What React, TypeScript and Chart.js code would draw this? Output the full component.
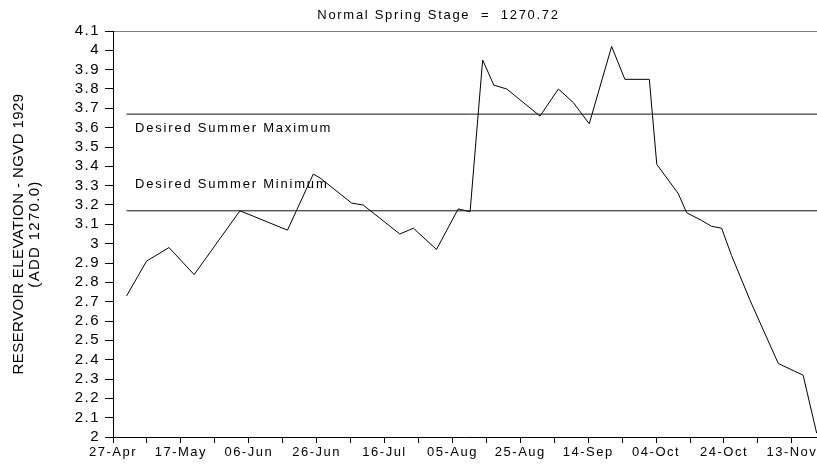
import React, { useEffect, useRef } from 'react';
import { Chart, registerables } from 'chart.js';

Chart.register(...registerables);

// Days after 27-Apr
const dayOffsets = [
  4.0, 9.9, 16.5, 23.9, 37.4, 51.4, 59.0, 61.0, 70.3, 73.7, 84.5, 88.5, 95.3, 101.7, 105.2,
  108.9, 112.2, 116.0, 125.8, 131.2, 135.6, 140.3, 146.9, 150.8, 158.0, 160.2, 166.5, 169.0,
  173.4, 176.3, 179.3, 182.2, 187.6, 196.0, 203.3, 207.3,
];
// Reservoir elevation (ADD 1270.0)
const elevations = [
  2.73, 2.91, 2.98, 2.84, 3.17, 3.07, 3.36, 3.34, 3.21, 3.2, 3.05, 3.08, 2.97, 3.18, 3.165,
  3.95, 3.82, 3.8, 3.66, 3.8, 3.73, 3.62, 4.02, 3.85, 3.85, 3.41, 3.26, 3.16,
  3.12, 3.09, 3.08, 2.94, 2.71, 2.38, 2.32, 2.02,
];
const tickLabels = ['27-Apr', '17-May', '06-Jun', '26-Jun', '16-Jul', '05-Aug', '25-Aug', '14-Sep', '04-Oct', '24-Oct', '13-Nov'];

const xMinDay = 0;
const xMaxDay = 207.4;
const yMin = 2;
const yMax = 4.1;
const normalSpringStage = 4.1;
const desiredSummerMax = 3.67;
const desiredSummerMin = 3.17;
const refLineStartDay = 4;

const titleText = 'Normal Spring Stage  =  1270.72';
const maxLabel = 'Desired Summer Maximum';
const minLabel = 'Desired Summer Minimum';
const yTitleLines = ['RESERVOIR ELEVATION - NGVD 1929', '(ADD 1270.0)'];

const FONT = '"Liberation Sans", Arial, Helvetica, sans-serif';

const textPlugin = {
  id: 'customTexts',
  beforeDraw(chart: any) {
    const ctx = chart.ctx as any;
    ctx.letterSpacing = '1.5px';
  },
  afterDraw(chart: any) {
    const ctx = chart.ctx as any;
    const { chartArea } = chart;
    const x = chart.scales.x;
    const y = chart.scales.y;
    ctx.save();
    ctx.fillStyle = '#000';
    ctx.textBaseline = 'alphabetic';

    // Title
    ctx.font = `13px ${FONT}`;
    ctx.letterSpacing = '1.7px';
    ctx.textAlign = 'center';
    ctx.fillText(titleText, x.getPixelForValue(95.9), y.getPixelForValue(normalSpringStage) - 12);

    // Reference-line labels
    ctx.font = `13px ${FONT}`;
    ctx.letterSpacing = '1.8px';
    ctx.textAlign = 'left';
    ctx.fillText(maxLabel, x.getPixelForValue(6.5), y.getPixelForValue(desiredSummerMax) + 18);
    ctx.fillText(minLabel, x.getPixelForValue(6.5), y.getPixelForValue(desiredSummerMin) - 22.5);

    // Y-axis title
    ctx.font = `15px ${FONT}`;
    ctx.textAlign = 'center';
    ctx.textBaseline = 'middle';
    const cy = (chartArea.top + chartArea.bottom) / 2;
    ctx.letterSpacing = '0.4px';
    ctx.save();
    ctx.translate(19, cy);
    ctx.rotate(-Math.PI / 2);
    ctx.fillText(yTitleLines[0], 0, 0);
    ctx.restore();
    ctx.letterSpacing = '1.3px';
    ctx.save();
    ctx.translate(34.5, cy);
    ctx.rotate(-Math.PI / 2);
    ctx.fillText(yTitleLines[1], 0, 0);
    ctx.restore();

    ctx.restore();
    ctx.letterSpacing = '0px';
  },
};

export default function App() {
  const canvasRef = useRef<HTMLCanvasElement | null>(null);

  useEffect(() => {
    document.body.style.margin = '0';
    const canvas = canvasRef.current;
    if (!canvas) return;

    const lineAt = (v: number, start: number) => [
      { x: start, y: v },
      { x: xMaxDay, y: v },
    ];

    const chart = new Chart(canvas, {
      type: 'line',
      data: {
        datasets: [
          {
            label: 'Normal Spring Stage',
            data: lineAt(normalSpringStage, xMinDay),
            borderColor: '#000',
            borderWidth: 1,
            pointRadius: 0,
            fill: false,
          },
          {
            label: 'Desired Summer Maximum',
            data: lineAt(desiredSummerMax, refLineStartDay),
            borderColor: '#111',
            borderWidth: 1,
            pointRadius: 0,
            fill: false,
          },
          {
            label: 'Desired Summer Minimum',
            data: lineAt(desiredSummerMin, refLineStartDay),
            borderColor: '#111',
            borderWidth: 1,
            pointRadius: 0,
            fill: false,
          },
          {
            label: 'Reservoir Elevation',
            data: dayOffsets.map((d, i) => ({ x: d, y: elevations[i] })),
            borderColor: '#000',
            borderWidth: 1,
            pointRadius: 0,
            tension: 0,
            fill: false,
          },
        ],
      },
      options: {
        responsive: false,
        animation: false,
        devicePixelRatio: 1,
        layout: { padding: { top: 31, left: 0, right: 0, bottom: 0 } },
        plugins: {
          legend: { display: false },
          tooltip: { enabled: false },
          title: { display: false },
        },
        scales: {
          x: {
            type: 'linear',
            min: xMinDay,
            max: xMaxDay,
            afterBuildTicks: (s: any) => {
              s.ticks = s.ticks.filter((t: any) => Math.abs(t.value / 10 - Math.round(t.value / 10)) < 1e-6);
            },
            afterFit: (s: any) => {
              s.height = 28;
            },
            ticks: {
              stepSize: 10,
              includeBounds: false,
              autoSkip: false,
              maxRotation: 0,
              minRotation: 0,
              padding: 2,
              color: '#000',
              font: { family: FONT, size: 13 },
              callback: (v: any) => {
                const k = Math.round(Number(v) / 20);
                return Math.abs(Number(v) - k * 20) < 1e-6 ? tickLabels[k] ?? '' : '';
              },
            },
            grid: { display: true, drawOnChartArea: false, drawTicks: true, tickLength: 6, color: '#000' },
            border: { display: true, color: '#000', width: 1 },
          },
          y: {
            type: 'linear',
            min: yMin,
            max: yMax,
            afterFit: (s: any) => {
              s.width = 113;
            },
            ticks: {
              stepSize: 0.1,
              autoSkip: false,
              padding: 5,
              color: '#000',
              font: { family: FONT, size: 15 },
              callback: (v: any) => String(Math.round(Number(v) * 10) / 10),
            },
            grid: { display: true, drawOnChartArea: false, drawTicks: true, tickLength: 8, color: '#000' },
            border: { display: true, color: '#000', width: 1 },
          },
        },
      },
      plugins: [textPlugin],
    } as any);

    return () => chart.destroy();
  }, []);

  return (
    <div style={{ width: 817, height: 465, background: '#fff' }}>
      <canvas ref={canvasRef} width={817} height={465} style={{ display: 'block' }} />
    </div>
  );
}
